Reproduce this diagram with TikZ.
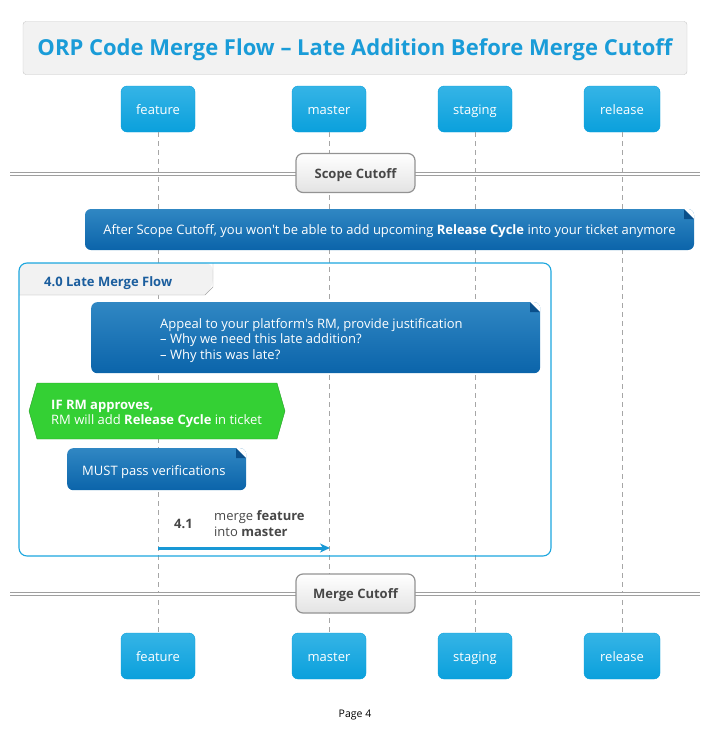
\documentclass[tikz,border=0pt]{standalone}
\usepackage{fontspec}
\setmainfont{Open Sans}[Ligatures=TeXOff]
\usetikzlibrary{calc}
\usetikzlibrary{shapes.symbols}
\usetikzlibrary{arrows.meta}

\definecolor{partTop}{HTML}{35B4E6}
\definecolor{partBot}{HTML}{0AA0DC}
\definecolor{noteTop}{HTML}{3087C3}
\definecolor{noteBot}{HTML}{0B64AA}
\definecolor{noteFold}{HTML}{0A4F8A}
\definecolor{titleBlue}{HTML}{1A9CD8}
\definecolor{groupBlue}{HTML}{1BA6DE}
\definecolor{groupText}{HTML}{1B5E9E}
\definecolor{ifGreen}{HTML}{34D034}
\definecolor{ifBorder}{HTML}{2A9E2A}
\definecolor{arrowBlue}{HTML}{1898D5}

\tikzset{
	every node/.style={font=\fontsize{13}{15.5}\selectfont},
	centred/.style={text height=12pt, text depth=2pt},
	participant/.style={centred, rounded corners=6pt, top color=partTop, bottom color=partBot,
		draw=partBot, text=white, minimum width=74pt, minimum height=46pt, inner sep=0pt},
	lifeline/.style={gray!70, dash pattern=on 5pt off 4pt},
	notebox/.style={rounded corners=6pt, top color=noteTop, bottom color=noteBot, text=white,
		path picture={
			\fill[white, sharp corners] ($(path picture bounding box.north east)+(-10pt,0)$) -- (path picture bounding box.north east)
				-- ($(path picture bounding box.north east)+(0,-10pt)$) -- cycle;
			\fill[noteFold, sharp corners] ($(path picture bounding box.north east)+(-10pt,0)$) -- ($(path picture bounding box.north east)+(-10pt,-10pt)$)
				-- ($(path picture bounding box.north east)+(0,-10pt)$) -- cycle;
		}},
	divider/.style={draw=gray!75, line width=1pt, double=white, double distance=1.6pt},
	dividerbox/.style={centred, rounded corners=7pt, draw=gray!85, line width=1.2pt, top color=white, bottom color=gray!22,
		minimum width=119pt, minimum height=39pt, inner sep=0pt, text=black!72, font=\fontsize{13}{15.5}\selectfont\bfseries},
}

\begin{document}
\begin{tikzpicture}[x=1pt,y=-1pt]
	\useasboundingbox (0,0) rectangle (711,756);

	% title
	\node[draw=gray!45, fill=gray!10, rounded corners=3pt, minimum width=664pt, minimum height=53pt, inner sep=0pt,
		text height=18.6pt, text depth=3pt,
		text=titleBlue, font=\fontsize{22}{26}\selectfont\bfseries] (title) at (355,48)
		{ORP Code Merge Flow – Late Addition Before Merge Cutoff};

	% participants
	\node[participant] (feat-top) at (158,109) {feature};
	\node[participant] (mast-top) at (329,109) {master};
	\node[participant] (stag-top) at (475,109) {staging};
	\node[participant, minimum width=76pt] (rel-top) at (622,109) {release};
	\node[participant] (feat-bot) at (158,656) {feature};
	\node[participant] (mast-bot) at (329,656) {master};
	\node[participant] (stag-bot) at (475,656) {staging};
	\node[participant, minimum width=76pt] (rel-bot) at (622,656) {release};

	\draw[lifeline] (feat-top.south) -- (feat-bot.north);
	\draw[lifeline] (mast-top.south) -- (mast-bot.north);
	\draw[lifeline] (stag-top.south) -- (stag-bot.north);
	\draw[lifeline] (rel-top.south) -- (rel-bot.north);

	% scope cutoff
	\coordinate (sc-left) at (10,174);
	\coordinate (sc-right) at (700,174);
	\draw[divider] (sc-left) -- (sc-right);
	\node[dividerbox] (scope) at (355.5,173) {Scope Cutoff};

	\node[notebox, centred, inner sep=0pt, minimum width=609pt, minimum height=41pt] (note-scope) at (389.5,229.5)
		{After Scope Cutoff, you won't be able to add upcoming \textbf{Release Cycle} into your ticket anymore};

	% group frame
	\fill[gray!10, rounded corners=8pt] (19,295) -- (19,263) -- (213,263) -- (213,287) [sharp corners] -- (205,295) -- cycle;
	\draw[gray!70] (19,295) -- (205,295) -- (213,287) -- (213,263);
	\draw[groupBlue, line width=1.1pt, rounded corners=8pt] (19,263) rectangle (551,556);
	\node[text=groupText, font=\fontsize{13}{15.5}\selectfont\bfseries, anchor=west, inner sep=0pt] (grp-label) at (44,283) {4.0 Late Merge Flow};

	\node[notebox, minimum width=449pt, minimum height=71pt, anchor=north west] (note-appeal) at (91,302) {};
	\node[text=white, align=left, anchor=north west, inner sep=0pt] (appeal-text) at (160,318)
		{Appeal to your platform's RM, provide justification\\ – Why we need this late addition?\\ – Why this was late?};

	\node[signal, signal to=west and east, signal pointer angle=148, fill=ifGreen, draw=ifBorder,
		minimum width=256pt, minimum height=56pt, inner sep=0pt] (if-rm) at (157,411) {};
	\node[text=white, align=left, anchor=west, inner sep=0pt] (if-text) at (51,414)
		{\textbf{IF RM approves,}\\ RM will add \textbf{Release Cycle} in ticket};

	\node[notebox, minimum width=179pt, minimum height=42pt, anchor=north west] (note-verify) at (67,448) {};
	\node[text=white, anchor=west, inner sep=0pt] (verify-text) at (82,472.5) {MUST pass verifications};

	% message
	\coordinate (msg-from) at (feat-top.south |- 0,548);
	\coordinate (msg-to) at (mast-top.south |- 0,548);
	\draw[arrowBlue, line width=3pt, -{Stealth[length=10pt, width=9pt, inset=3pt]}, shorten >=-1pt] (msg-from) -- (msg-to);
	\node[centred, inner sep=0pt, text=black!72, font=\fontsize{13}{15.5}\selectfont\bfseries] (msg-num) at (183.5,523) {4.1};
	\node[text=black!72, align=left, anchor=west, inner sep=0pt] (msg-text) at (214,523.5)
		{merge \textbf{feature}\\ into \textbf{master}};

	% merge cutoff
	\coordinate (mc-left) at (10,594);
	\coordinate (mc-right) at (700,594);
	\draw[divider] (mc-left) -- (mc-right);
	\node[dividerbox] (merge) at (355.5,593.5) {Merge Cutoff};

	\node[font=\fontsize{10.5}{12}\selectfont] (page) at (355,715) {Page 4};
\end{tikzpicture}
\end{document}
